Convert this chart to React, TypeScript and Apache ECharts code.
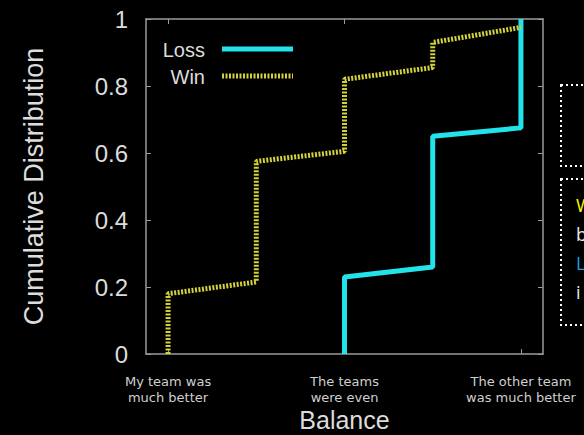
import React, { useEffect, useRef } from "react";
import * as echarts from "echarts";

const categories = ["My team was\nmuch better", "The teams\nwere even", "The other team\nwas much better"];
const categoryPositions = [1, 3, 5];
const yTicks = [0, 0.2, 0.4, 0.6, 0.8, 1];

const lossPoints: [number, number][] = [
  [3, 0], [3, 0.23], [4, 0.26], [4, 0.65], [5, 0.675], [5, 1],
];
const winPoints: [number, number][] = [
  [1, 0], [1, 0.18], [2, 0.215], [2, 0.575], [3, 0.605], [3, 0.82], [4, 0.855], [4, 0.93], [5, 0.975],
];

const sideLetters = [
  { t: "W", c: "#ffff00" },
  { t: "b", c: "#e8e8e8" },
  { t: "L", c: "#1a9fe0" },
  { t: "i", c: "#e8e8e8" },
];

const LOSS_COLOR = "#22e3ea";
const WIN_COLOR = "#d2d23c";

export default function App() {
  const ref = useRef<HTMLDivElement>(null);
  useEffect(() => {
    if (!ref.current) return;
    const chart = echarts.init(ref.current, null, { renderer: "svg" });
    const axisColor = "#9a9a9a";
    const labelColor = "#dcdcdc";
    const font = "Liberation Sans, Arial, sans-serif";
    const legendItems = [
      { name: "Loss", color: LOSS_COLOR, dash: null as null | number[], y: 49 },
      { name: "Win", color: WIN_COLOR, dash: [2, 1.5], y: 76 },
    ];
    chart.setOption({
      animation: false,
      backgroundColor: "#000000",
      textStyle: { fontFamily: font },
      grid: { left: 146, right: 41, top: 19, bottom: 81, containLabel: false, outerBoundsMode: "none" },
      xAxis: [
        {
          type: "value",
          min: 0.75,
          max: 5.25,
          position: "bottom",
          name: "Balance",
          nameLocation: "middle",
          nameGap: 53,
          nameMoveOverlap: false,
          nameTextStyle: { color: labelColor, fontSize: 25, lineHeight: 25, fontFamily: font },
          axisLine: { onZero: false, lineStyle: { color: axisColor, width: 1.5 } },
          axisTick: { inside: true, length: 5, customValues: categoryPositions, lineStyle: { color: axisColor } },
          axisLabel: {
            customValues: categoryPositions,
            color: "#cfcfcf",
            fontSize: 13,
            fontFamily: "DejaVu Sans, sans-serif",
            lineHeight: 16,
            margin: 19,
            formatter: (v: number) => {
              const i = categoryPositions.indexOf(Math.round(v));
              return i >= 0 ? categories[i] : "";
            },
          },
          splitLine: { show: false },
        },
        {
          type: "value",
          min: 0.75,
          max: 5.25,
          position: "top",
          axisLine: { onZero: false, lineStyle: { color: axisColor, width: 1.5 } },
          axisTick: { inside: true, length: 5, customValues: categoryPositions, lineStyle: { color: axisColor } },
          axisLabel: { show: false },
          splitLine: { show: false },
        },
      ],
      yAxis: [
        {
          type: "value",
          min: 0,
          max: 1,
          interval: 0.2,
          name: "Cumulative Distribution",
          nameLocation: "middle",
          nameGap: 99,
          nameMoveOverlap: false,
          nameTextStyle: { color: labelColor, fontSize: 27, fontFamily: font },
          axisLine: { show: true, onZero: false, lineStyle: { color: axisColor, width: 1.5 } },
          axisTick: { show: true, inside: true, length: 5, lineStyle: { color: axisColor } },
          axisLabel: {
            color: labelColor,
            fontSize: 24,
            margin: 18,
            formatter: (v: number) => {
              const t = yTicks.find((y) => Math.abs(y - v) < 1e-6);
              return t === undefined ? "" : String(t);
            },
          },
          splitLine: { show: false },
        },
        {
          type: "value",
          min: 0,
          max: 1,
          interval: 0.2,
          position: "right",
          axisLine: { show: true, onZero: false, lineStyle: { color: axisColor, width: 1.5 } },
          axisTick: { show: true, inside: true, length: 5, lineStyle: { color: axisColor } },
          axisLabel: { show: false },
          splitLine: { show: false },
        },
      ],
      series: [
        {
          name: "Loss",
          type: "line",
          data: lossPoints,
          showSymbol: false,
          symbol: "none",
          lineStyle: { color: LOSS_COLOR, width: 5 },
          itemStyle: { color: LOSS_COLOR },
          z: 3,
        },
        {
          name: "Win",
          type: "line",
          data: winPoints,
          showSymbol: false,
          symbol: "none",
          lineStyle: { color: WIN_COLOR, width: 5, type: [2, 1.5], cap: "butt" },
          itemStyle: { color: WIN_COLOR },
          z: 4,
        },
      ],
      graphic: [
        ...legendItems.flatMap((it) => [
          {
            type: "text",
            x: 205,
            y: it.y + 1,
            style: {
              text: it.name,
              fill: labelColor,
              fontSize: 20,
              fontFamily: font,
              align: "right",
              verticalAlign: "middle",
            },
            silent: true,
          },
          {
            type: "line",
            shape: { x1: 222, y1: it.y, x2: 293, y2: it.y },
            style: it.dash
              ? { stroke: it.color, lineWidth: 5, lineDash: it.dash, lineCap: "butt" }
              : { stroke: it.color, lineWidth: 5 },
            silent: true,
          },
        ]),
        {
          type: "rect",
          shape: { x: 561, y: 85, width: 40, height: 81 },
          style: { fill: "none", stroke: "#ffffff", lineWidth: 2, lineDash: [2, 3] },
          silent: true,
        },
        {
          type: "rect",
          shape: { x: 561, y: 179, width: 40, height: 146 },
          style: { fill: "none", stroke: "#ffffff", lineWidth: 2, lineDash: [2, 3] },
          silent: true,
        },
        ...sideLetters.map((l, i) => ({
          type: "text",
          x: 576,
          y: 205 + i * 29,
          style: {
            text: l.t,
            fill: l.c,
            fontSize: 18,
            fontFamily: "Open Sans, sans-serif",
            verticalAlign: "middle",
            align: "left",
          },
          silent: true,
        })),
      ],
    });
    return () => chart.dispose();
  }, []);
  return (
    <div
      ref={ref}
      style={{ position: "absolute", left: 0, top: 0, width: 584, height: 435, background: "#000", overflow: "hidden" }}
    />
  );
}
